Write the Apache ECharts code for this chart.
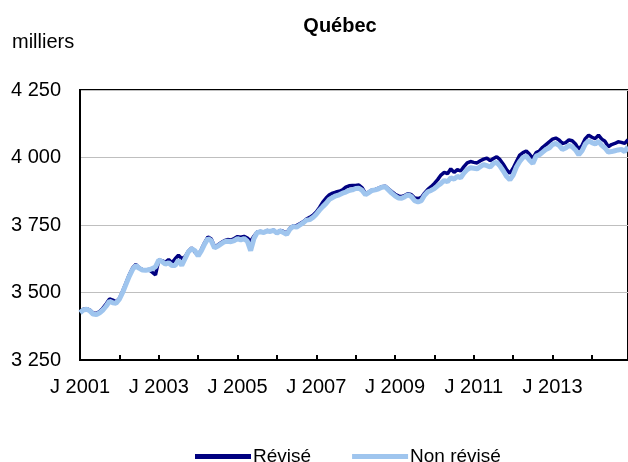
<!DOCTYPE html>
<html>
<head>
<meta charset="utf-8">
<script src="https://cdn.jsdelivr.net/npm/echarts@6/dist/echarts.min.js"></script>
<style>
  html, body { margin: 0; padding: 0; background: #fff; }
  #chart { width: 628px; height: 462px; }
</style>
</head>
<body>
<div id="chart"></div>
<script>
const monthLetters = ['J', 'F', 'M', 'A', 'M', 'J', 'J', 'A', 'S', 'O', 'N', 'D'];
const years = [2001, 2002, 2003, 2004, 2005, 2006, 2007, 2008, 2009, 2010, 2011, 2012, 2013, 2014];
const yTicks = [3250, 3500, 3750, 4000, 4250];

// monthly values, thousands, Jan 2001 - Dec 2014
const revise = [
  3428, 3438, 3440, 3435, 3424, 3422, 3430, 3442, 3458, 3476, 3472, 3465,
  3478, 3505, 3535, 3565, 3590, 3604, 3592, 3585, 3583, 3585, 3575, 3565,
  3620, 3618, 3612, 3622, 3610, 3625, 3638, 3625, 3632, 3652, 3665, 3650,
  3638, 3660, 3685, 3706, 3698, 3670, 3676, 3684, 3692, 3696, 3694, 3700,
  3707, 3705, 3708, 3702, 3690, 3708, 3724, 3726, 3722, 3730, 3726, 3731,
  3722, 3730, 3726, 3720, 3738, 3747, 3748, 3755, 3762, 3772, 3778, 3786,
  3798, 3815, 3835, 3850, 3862, 3868, 3872, 3875, 3880, 3890, 3895, 3896,
  3896, 3898, 3888, 3866, 3872, 3880, 3882, 3886, 3892, 3894, 3884, 3874,
  3864, 3858, 3855, 3860, 3866, 3862, 3850, 3848, 3852, 3868, 3882, 3892,
  3904, 3918, 3935, 3945, 3940, 3958, 3945, 3955, 3950, 3966, 3980, 3985,
  3982, 3980, 3988, 3994, 3998, 3988, 3996, 4003, 3992, 3975, 3955, 3941,
  3960, 3985, 4009, 4018, 4024, 4012, 3997, 4018, 4024, 4038, 4048, 4058,
  4068, 4072, 4065, 4052, 4055, 4065, 4062, 4050, 4030, 4045, 4070, 4083,
  4075, 4070, 4083, 4068, 4060, 4040, 4048, 4052, 4058, 4056, 4052, 4066
];
const nonRevise = [
  3425, 3435, 3438, 3432, 3420, 3418, 3425, 3435, 3450, 3468, 3462, 3460,
  3475, 3500, 3530, 3560, 3585, 3600, 3590, 3583, 3582, 3584, 3588, 3595,
  3620, 3615, 3605, 3610, 3600, 3600, 3620, 3600, 3625, 3650, 3662, 3655,
  3635, 3655, 3680, 3700, 3692, 3665, 3672, 3680, 3688, 3690, 3688, 3692,
  3700, 3695, 3700, 3690, 3655, 3700, 3722, 3725, 3722, 3728, 3726, 3730,
  3720, 3728, 3722, 3715, 3735, 3745, 3742, 3750, 3758, 3768, 3770, 3778,
  3790, 3805, 3818, 3830, 3845, 3852, 3858, 3862, 3868, 3872, 3878, 3880,
  3885, 3886, 3878, 3862, 3870, 3878, 3880, 3884, 3890, 3892, 3880, 3868,
  3858, 3850, 3849, 3855, 3862, 3855, 3840, 3835, 3840, 3860, 3873, 3878,
  3885, 3895, 3904, 3915, 3910, 3925, 3920, 3930, 3925, 3942, 3955, 3962,
  3960, 3958, 3966, 3974, 3970, 3965, 3978, 3982, 3968, 3950, 3930, 3917,
  3935, 3965, 3985, 4000, 4005, 3990, 3978, 4005, 4010, 4020, 4030, 4035,
  4048, 4052, 4045, 4030, 4035, 4045, 4040, 4028, 4010, 4025, 4050, 4062,
  4055, 4050, 4060, 4045, 4035, 4020, 4022, 4025, 4028, 4030, 4022, 4040
];

const months = [];
years.forEach(function (y) {
  monthLetters.forEach(function (l) { months.push(l + ' ' + y); });
});

const chart = echarts.init(document.getElementById('chart'));
const font = 'Liberation Sans, Arial, sans-serif';

const option = {
  animation: false,
  textStyle: { fontFamily: font },
  title: {
    text: 'Québec',
    left: 335,
    top: 11,
    textAlign: 'center',
    textStyle: { fontSize: 20, fontWeight: 'bold', color: '#000', fontFamily: font },
  },
  graphic: [
    {
      type: 'text',
      left: 12,
      top: 32,
      style: { text: 'milliers', fontSize: 20, fill: '#000', fontFamily: font },
    },
  ],
  legend: {
    left: 190,
    top: 442,
    icon: 'rect',
    itemWidth: 56,
    itemHeight: 5,
    itemGap: 41,
    textStyle: { fontSize: 19, color: '#000', fontFamily: font, padding: [0, 0, 0, -3] },
    data: ['Révisé', 'Non révisé'],
  },
  grid: {
    left: 80,
    right: -2,
    top: 90,
    bottom: 102,
    show: true,
    borderColor: '#000',
    borderWidth: 2,
  },
  xAxis: {
    type: 'category',
    data: months,
    boundaryGap: false,
    axisLine: { lineStyle: { color: '#000', width: 2 } },
    axisTick: {
      inside: true,
      length: 5,
      interval: function (index) { return index % 12 === 0; },
      lineStyle: { color: '#000', width: 2 },
    },
    axisLabel: {
      interval: function (index) { return index % 24 === 0; },
      fontSize: 20,
      color: '#000',
      margin: 17,
      fontFamily: font,
    },
    splitLine: { show: false },
  },
  yAxis: {
    type: 'value',
    min: yTicks[0],
    max: yTicks[yTicks.length - 1],
    interval: 250,
    axisLine: { show: true, lineStyle: { color: '#000', width: 2 } },
    axisTick: { show: false },
    axisLabel: {
      fontSize: 20,
      color: '#000',
      margin: 19,
      fontFamily: font,
      formatter: function (v) {
        return String(v).replace(/\B(?=(\d{3})+(?!\d))/g, ' ');
      },
    },
    splitLine: { lineStyle: { color: '#bfbfbf', width: 1 } },
  },
  series: [
    {
      name: 'Révisé',
      type: 'line',
      data: revise,
      symbol: 'none',
      color: '#000080',
      lineStyle: { color: '#000080', width: 3.5 },
    },
    {
      name: 'Non révisé',
      type: 'line',
      data: nonRevise,
      symbol: 'none',
      color: '#9fc5ee',
      lineStyle: { color: '#9fc5ee', width: 5 },
    },
  ],
};
chart.setOption(option);
</script>
</body>
</html>
